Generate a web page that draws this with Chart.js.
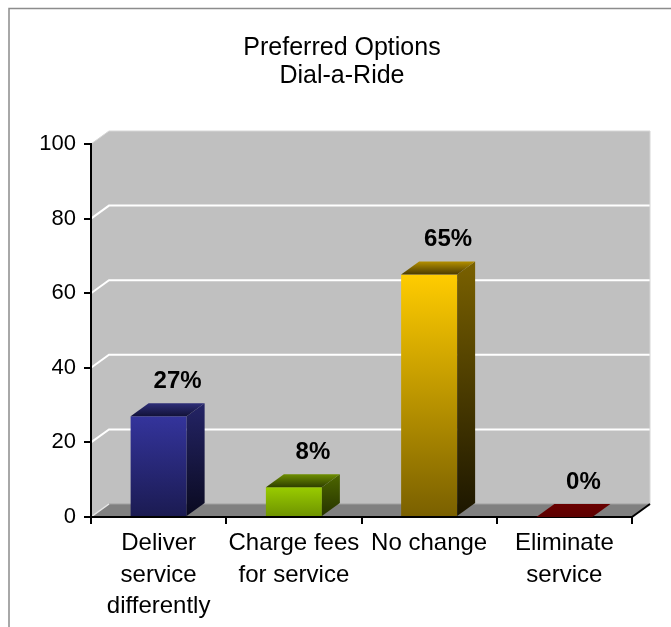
<!DOCTYPE html>
<html>
<head>
<meta charset="utf-8">
<title>Preferred Options - Dial-a-Ride</title>
<script src="https://cdn.jsdelivr.net/npm/chart.js@4.4.1/dist/chart.umd.min.js"></script>
<style>
  html, body { margin: 0; padding: 0; background: #fff; }
  canvas { display: block; }
</style>
</head>
<body>
<canvas id="optionsChart" width="671" height="627"></canvas>
<script>
const titleLines = ['Preferred Options', 'Dial-a-Ride'];
const categories = [['Deliver', 'service', 'differently'], ['Charge fees', 'for service'], 'No change', ['Eliminate', 'service']];
const percentValues = [27, 8, 65, 0];
const yTicks = [0, 20, 40, 60, 80, 100];

const FONT = '"Liberation Sans", Arial, sans-serif';
const DEPTH_X = 18;
const DEPTH_Y = -13;
const TITLE_X = 342;

// front / top / side shades for each bar (first colour = upper or back end)
const barShades = [
    { front: ['#34349c', '#1b1b52'], top: ['#2e2e78', '#121238'], side: ['#242466', '#0a0a20'] },
    { front: ['#99cc00', '#6f9400'], top: ['#6e8f00', '#2f3f00'], side: ['#4d6600', '#263300'] },
    { front: ['#ffcc00', '#7a6000'], top: ['#b38f00', '#4a3a00'], side: ['#7a6100', '#1c1600'] },
    { front: ['#660000', '#660000'], top: ['#6a0000', '#5c0000'], side: ['#400000', '#200000'] }
];

function fillPoly(ctx, pts, fill) {
    ctx.beginPath();
    ctx.moveTo(pts[0][0], pts[0][1]);
    for (let i = 1; i < pts.length; i++) {
        ctx.lineTo(pts[i][0], pts[i][1]);
    }
    ctx.closePath();
    ctx.fillStyle = fill;
    ctx.fill();
}

function strokeLine(ctx, pts, color, width) {
    ctx.beginPath();
    ctx.moveTo(pts[0][0], pts[0][1]);
    for (let i = 1; i < pts.length; i++) {
        ctx.lineTo(pts[i][0], pts[i][1]);
    }
    ctx.strokeStyle = color;
    ctx.lineWidth = width;
    ctx.stroke();
}

function vGradient(ctx, y0, y1, colors) {
    const g = ctx.createLinearGradient(0, y0, 0, y1);
    g.addColorStop(0, colors[0]);
    g.addColorStop(1, colors[1]);
    return g;
}

// background, frame, title, walls, floor and wall gridlines
const wallsPlugin = {
    id: 'walls',
    beforeDraw(chart) {
        const ctx = chart.ctx;
        const a = chart.chartArea;
        const yScale = chart.scales.y;
        const L = a.left, R = a.right, T = a.top, B = a.bottom;
        const dx = DEPTH_X, dy = DEPTH_Y;

        ctx.save();
        ctx.fillStyle = '#fff';
        ctx.fillRect(0, 0, chart.width, chart.height);

        strokeLine(ctx, [[9, chart.height + 2], [9, 8.5], [chart.width + 2, 8.5]], '#8c8c8c', 1.5);

        // the title is centred on the full frame, which runs past the canvas edge
        ctx.fillStyle = '#000';
        ctx.font = '25px ' + FONT;
        ctx.textAlign = 'center';
        ctx.textBaseline = 'alphabetic';
        titleLines.forEach(function(line, i) {
            ctx.fillText(line, TITLE_X, 55 + i * 28);
        });

        // side wall and back wall
        fillPoly(ctx, [[L, B], [L, T], [L + dx, T + dy], [L + dx, B + dy]], '#c0c0c0');
        ctx.fillStyle = '#c0c0c0';
        ctx.fillRect(L + dx, T + dy, R - L, B - T);

        yTicks.forEach(function(v) {
            if (v === 0 || v === 100) {
                return;
            }
            const py = yScale.getPixelForValue(v);
            strokeLine(ctx, [[L, py], [L + dx, py + dy], [R + dx, py + dy]], '#ffffff', 2);
        });
        strokeLine(ctx, [[L, T], [L + dx, T + dy], [R + dx, T + dy], [R + dx, B + dy]], '#d6d6d6', 1);

        // floor
        fillPoly(ctx, [[L, B], [R, B], [R + dx, B + dy], [L + dx, B + dy]], '#808080');
        strokeLine(ctx, [[L + dx, B + dy], [R + dx, B + dy]], '#a0a0a0', 1);
        strokeLine(ctx, [[L, B], [L + dx, B + dy]], '#e6e6e6', 1.5);
        strokeLine(ctx, [[R, B], [R + dx, B + dy]], '#000000', 2);
        ctx.restore();
    }
};

// 3D boxes for the bars plus their percentage labels
const boxesPlugin = {
    id: 'boxes',
    afterDatasetsDraw(chart) {
        const ctx = chart.ctx;
        const meta = chart.getDatasetMeta(0);
        const dx = DEPTH_X, dy = DEPTH_Y;

        ctx.save();
        meta.data.forEach(function(bar, i) {
            const p = bar.getProps(['x', 'y', 'base', 'width'], true);
            const left = p.x - p.width / 2;
            const right = p.x + p.width / 2;
            const top = p.y;
            const base = p.base;
            const shade = barShades[i];

            if (base - top > 0.5) {
                ctx.fillStyle = vGradient(ctx, top, base, shade.front);
                ctx.fillRect(left, top, right - left, base - top);
                fillPoly(ctx, [[right, top], [right + dx, top + dy], [right + dx, base + dy], [right, base]],
                    vGradient(ctx, top + dy, base, shade.side));
            }
            fillPoly(ctx, [[left, top], [right, top], [right + dx, top + dy], [left + dx, top + dy]],
                vGradient(ctx, top + dy, top, shade.top));

            ctx.fillStyle = '#000';
            ctx.font = 'bold 24px ' + FONT;
            ctx.textAlign = 'center';
            ctx.textBaseline = 'middle';
            ctx.fillText(percentValues[i] + '%', p.x + 19, top - 35);
        });
        ctx.restore();
    }
};

new Chart(document.getElementById('optionsChart'), {
    type: 'bar',
    data: {
        labels: categories,
        datasets: [{
            data: percentValues,
            backgroundColor: 'rgba(0,0,0,0)',
            borderWidth: 0,
            categoryPercentage: 1,
            barPercentage: 0.414
        }]
    },
    options: {
        responsive: false,
        animation: false,
        devicePixelRatio: 1,
        layout: { padding: { left: 0, right: 39, top: 144, bottom: 0 } },
        plugins: {
            legend: { display: false },
            tooltip: { enabled: false },
            title: { display: false }
        },
        scales: {
            x: {
                z: 1,
                grid: { offset: true, drawOnChartArea: false, tickLength: 7, color: '#000', lineWidth: 2 },
                border: { color: '#000', width: 2 },
                ticks: { color: '#000', padding: 4, maxRotation: 0, autoSkip: false, font: { family: FONT, size: 24, lineHeight: 1.31 } },
                afterFit(scale) { scale.height = 110; }
            },
            y: {
                z: 1,
                min: 0,
                max: 100,
                grid: { drawOnChartArea: false, tickLength: 7, color: '#000', lineWidth: 2 },
                border: { color: '#000', width: 2 },
                ticks: { stepSize: 20, color: '#000', padding: 8, font: { family: FONT, size: 22 } },
                afterFit(scale) { scale.width = 91; }
            }
        }
    },
    plugins: [wallsPlugin, boxesPlugin]
});
</script>
</body>
</html>
